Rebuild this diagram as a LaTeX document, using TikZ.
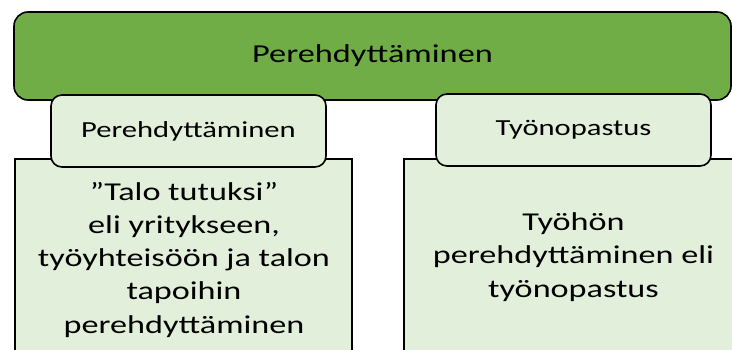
\documentclass[tikz,border=0pt]{standalone}
\usepackage{fontspec}
\setmainfont[FakeStretch=1.33]{Carlito}
\usepackage{xcolor}
\definecolor{topgreen}{RGB}{112,173,71}
\definecolor{palegreen}{RGB}{226,239,218}
\usetikzlibrary{positioning}

\begin{document}
\begin{tikzpicture}[x=1pt,y=1pt,
  every node/.style={font=\fontsize{23}{28}\selectfont, text=black},
  mainbox/.style={draw=black, line width=1.6pt, fill=topgreen, rounded corners=14pt,
    minimum width=717pt, minimum height=88pt, font=\fontsize{25.8}{31}\selectfont},
  tabbox/.style={draw=black, line width=1.6pt, fill=palegreen, rounded corners=11pt,
    minimum width=275pt, minimum height=72pt},
  bodybox/.style={draw=black, line width=1.6pt, fill=palegreen},
  bodytext/.style={align=center, font=\fontsize{25.7}{33.2}\selectfont}]
\useasboundingbox (0,0) rectangle (732,349);
\clip (0,0) rectangle (732,349);
\node[mainbox] (main) at (372.5,293) {Perehdyttäminen};
% the two content boxes run out of the picture at the bottom
\draw[bodybox] (15,-20) rectangle (352,190);
\draw[bodybox] (404,-20) rectangle (760,190);
\node[tabbox] (tabL) at (188.5,218) {Perehdyttäminen};
\node[tabbox] (tabR) at (573.5,219) {Työnopastus};
\node[bodytext, anchor=base] (bodyL) at (184,16) {”Talo tutuksi”\\eli yritykseen,\\työyhteisöön ja talon\\tapoihin\\perehdyttäminen};
\node[bodytext, anchor=base] (bodyR) at (573.5,52) {Työhön\\perehdyttäminen eli\\työnopastus};
\end{tikzpicture}
\end{document}
